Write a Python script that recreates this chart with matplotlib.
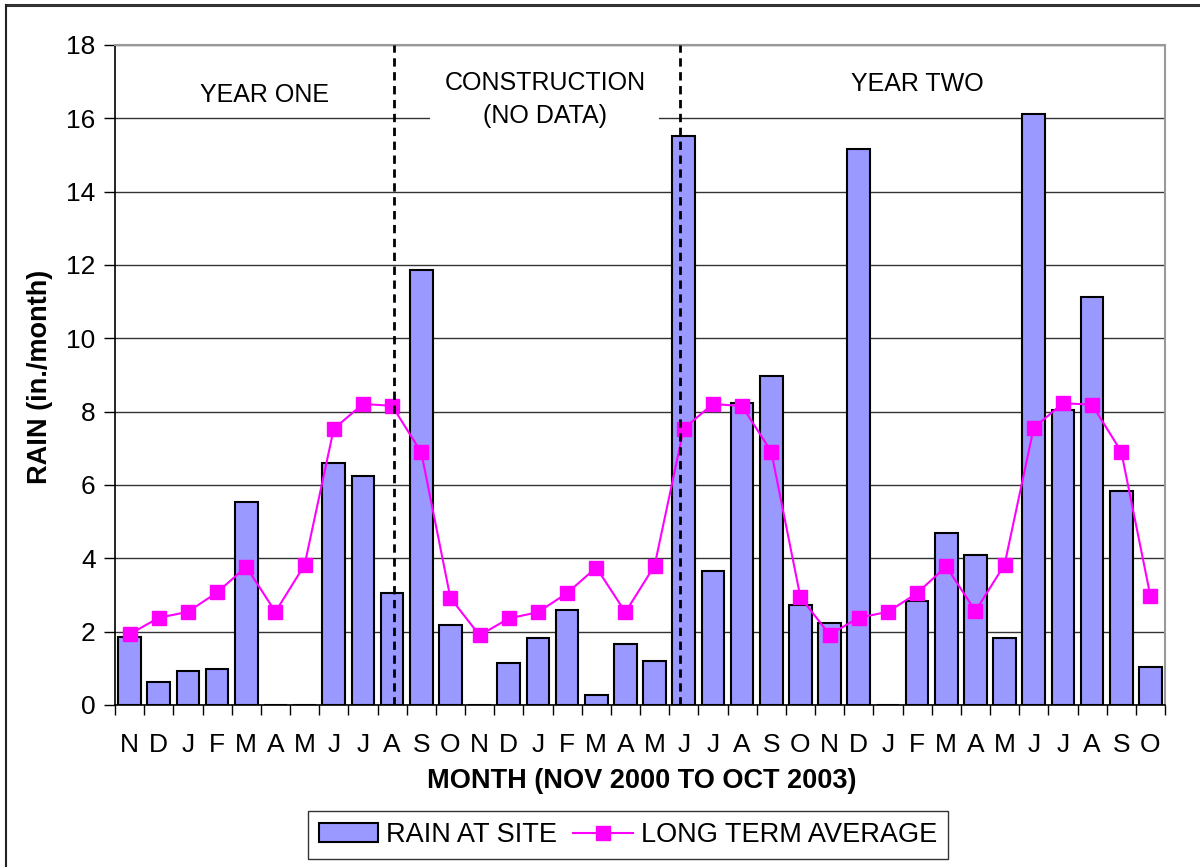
import numpy as np
import matplotlib
matplotlib.use("Agg")
import matplotlib.pyplot as plt
from matplotlib.lines import Line2D

plt.rcParams['font.family'] = ['Liberation Sans', 'DejaVu Sans']

# months from Nov 2000 to Oct 2003
months = ["N", "D", "J", "F", "M", "A", "M", "J", "J", "A", "S", "O",
          "N", "D", "J", "F", "M", "A", "M", "J", "J", "A", "S", "O",
          "N", "D", "J", "F", "M", "A", "M", "J", "J", "A", "S", "O"]

# rain at site (in./month), 0 = no bar
rain = [1.86, 0.64, 0.93, 0.98, 5.55, 0.0, 0.0, 6.59, 6.25, 3.06, 11.86, 2.18,
        0.0, 1.14, 1.83, 2.58, 0.28, 1.66, 1.19, 15.53, 3.65, 8.23, 8.98, 2.72,
        2.25, 15.17, 0.0, 2.83, 4.69, 4.10, 1.84, 16.11, 8.05, 11.12, 5.85, 1.03]

# long term average (in./month)
long_term = [1.93, 2.38, 2.54, 3.07, 3.77, 2.54, 3.82, 7.53, 8.21, 8.16, 6.89, 2.92,
             1.90, 2.36, 2.53, 3.05, 3.75, 2.53, 3.80, 7.54, 8.21, 8.15, 6.91, 2.94,
             1.92, 2.38, 2.54, 3.05, 3.78, 2.56, 3.83, 7.56, 8.23, 8.19, 6.91, 2.97]

# dashed separators between the phases (category position)
phase_breaks = [9.07, 18.88]
phase_names = ["YEAR ONE", "CONSTRUCTION\n(NO DATA)", "YEAR TWO"]

W, H = 1200, 867
fig = plt.figure(figsize=(W / 100, H / 100), dpi=100)
ax = fig.add_axes([115 / W, (H - 705) / H, 1050 / W, 660 / H])

x = np.arange(len(months))
bars = ax.bar(x, rain, width=0.78, color="#9999FF", edgecolor="black",
              linewidth=1.5, zorder=2, label="RAIN AT SITE")
avg_line, = ax.plot(x, long_term, color="#FF00FF", lw=1.5, marker="s", ms=9.5,
                    zorder=4, label="LONG TERM AVERAGE")
for b in phase_breaks:
    ax.axvline(b, color="black", lw=2, ls=(0, (3, 2)), zorder=5)

ax.set_xlim(-0.5, 35.5)
ax.set_ylim(0, 18)
ax.set_yticks(range(0, 19, 2))
ax.yaxis.grid(True, color="#333333", lw=1)
ax.set_axisbelow(True)

ax.set_xticks(x)
ax.set_xticklabels(months)
ax.set_xticks(np.arange(-0.5, 36, 1), minor=True)
ax.tick_params(axis="x", which="major", length=0, pad=20, labelsize=19)
ax.tick_params(axis="x", which="minor", length=7, width=1)
ax.tick_params(axis="y", length=8, width=1, pad=6, labelsize=19)

for s in ["top", "right"]:
    ax.spines[s].set_color("#999999")
    ax.spines[s].set_linewidth(1.5)
ax.spines["left"].set_linewidth(1.2)
ax.spines["bottom"].set_linewidth(1.2)

# phase headers
ax.text(4.64, 16.65, phase_names[0], ha="center", va="center", fontsize=18)
ax.text(14.24, 16.52, phase_names[1], ha="center", va="center", fontsize=18,
        linespacing=1.45,
        bbox=dict(facecolor="white", edgecolor="none", pad=10), zorder=3)
ax.text(27.0, 16.95, phase_names[2], ha="center", va="center", fontsize=18)

fig.text(40 / W, 1 - 377 / H, "RAIN (in./month)", rotation=90, ha="center",
         va="center", fontsize=19.5, fontweight="bold")
fig.text(642 / W, 1 - 781 / H, "MONTH (NOV 2000 TO OCT 2003)", ha="center",
         va="center", fontsize=19.5, fontweight="bold")

leg = fig.legend(handles=[bars, avg_line], loc="center",
                 bbox_to_anchor=(628 / W, 1 - 835 / H), ncol=2,
                 fontsize=19.5, frameon=True, fancybox=False, shadow=False,
                 handlelength=2.2, handletextpad=0.3, columnspacing=0.6,
                 borderpad=0.4, borderaxespad=0)
leg.get_frame().set_edgecolor("black")
leg.get_frame().set_linewidth(1)

# page frame around the chart
fig.add_artist(Line2D([6 / W, 1], [1 - 5 / H, 1 - 5 / H], color="#333333", lw=2.2))
fig.add_artist(Line2D([6 / W, 6 / W], [0, 1 - 5 / H], color="#222222", lw=1.5))

fig.savefig("out.png", dpi=100)
